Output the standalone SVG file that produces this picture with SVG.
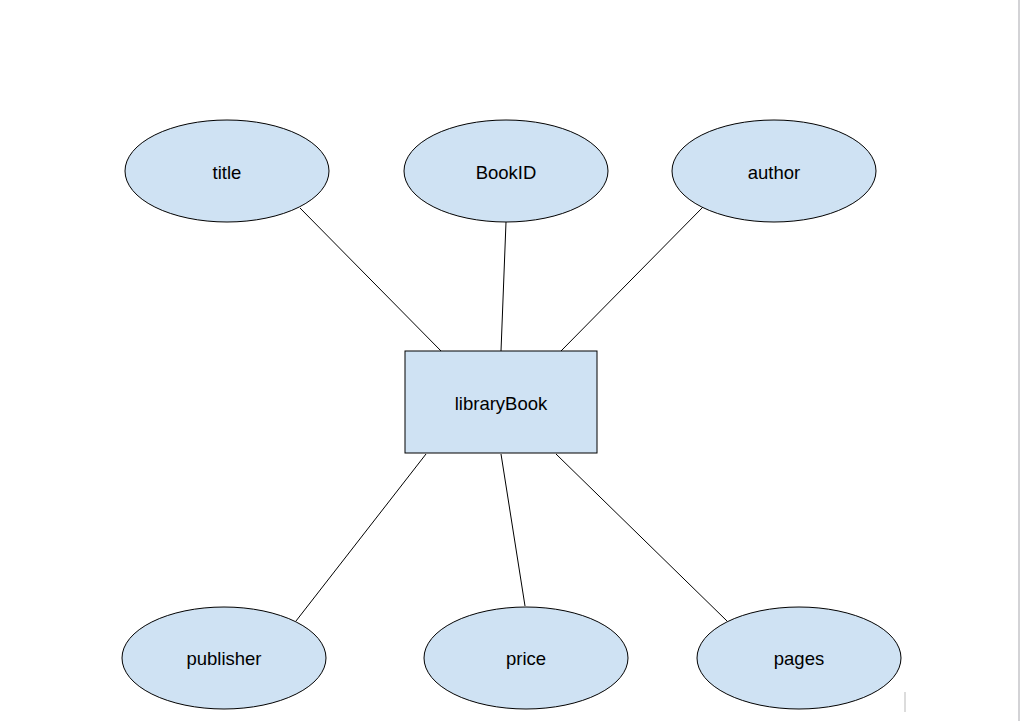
<svg xmlns="http://www.w3.org/2000/svg" width="1023" height="721" viewBox="0 0 1023 721">
<style>
.n{fill:#cfe2f3;stroke:#000;stroke-width:1}
.t{font-family:"Liberation Sans",Arial,sans-serif;font-size:18.5px;fill:#000;text-anchor:middle;dominant-baseline:central}
.c{stroke:#000;stroke-width:1;fill:none}
</style>
<rect x="0" y="0" width="1023" height="721" fill="#fff"/>
<line x1="1019" y1="0" x2="1019" y2="721" stroke="#c4c4c8" stroke-width="1.5"/>
<line x1="905" y1="692" x2="905" y2="712" stroke="#d0d0d0" stroke-width="1.5"/>
<g id="connectors">
<line class="c" x1="300" y1="208" x2="443" y2="353"/>
<line class="c" x1="506" y1="222" x2="501" y2="351"/>
<line class="c" x1="703" y1="207" x2="561" y2="351"/>
<line class="c" x1="426" y1="454" x2="296" y2="621"/>
<line class="c" x1="501" y1="454" x2="525" y2="606"/>
<line class="c" x1="556" y1="454" x2="727" y2="621"/>
</g>
<g id="title"><ellipse class="n" cx="227" cy="171" rx="102" ry="51"/><text class="t" x="227" y="172">title</text></g>
<g id="bookid"><ellipse class="n" cx="506" cy="171" rx="102" ry="51"/><text class="t" x="506" y="172">BookID</text></g>
<g id="author"><ellipse class="n" cx="774" cy="171" rx="102" ry="51"/><text class="t" x="774" y="172">author</text></g>
<g id="librarybook"><rect class="n" x="405" y="351" width="192" height="102"/><text class="t" x="501" y="403">libraryBook</text></g>
<g id="publisher"><ellipse class="n" cx="224" cy="658" rx="102" ry="51"/><text class="t" x="224" y="658">publisher</text></g>
<g id="price"><ellipse class="n" cx="526" cy="658" rx="102" ry="51"/><text class="t" x="526" y="658">price</text></g>
<g id="pages"><ellipse class="n" cx="799" cy="658" rx="102" ry="51"/><text class="t" x="799" y="658">pages</text></g>
</svg>
